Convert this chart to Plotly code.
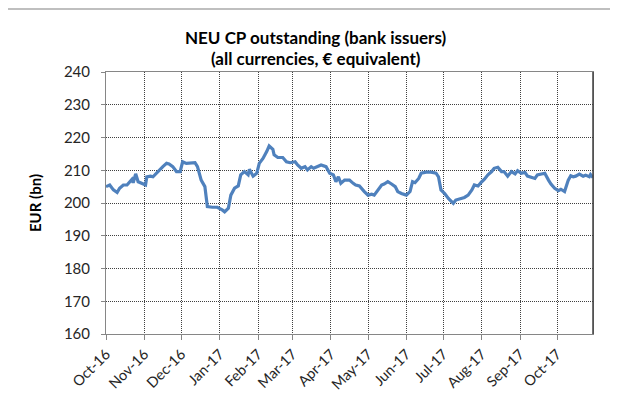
import plotly.graph_objects as go

dates = [
    "2016-10-01", "2016-10-04", "2016-10-07", "2016-10-10", "2016-10-12", "2016-10-15",
    "2016-10-18", "2016-10-20", "2016-10-22", "2016-10-23", "2016-10-25", "2016-10-27",
    "2016-10-30", "2016-11-02", "2016-11-03", "2016-11-06", "2016-11-08", "2016-11-11",
    "2016-11-13", "2016-11-16", "2016-11-19", "2016-11-21", "2016-11-24", "2016-11-27",
    "2016-11-30", "2016-12-02", "2016-12-05", "2016-12-08", "2016-12-12", "2016-12-14",
    "2016-12-17", "2016-12-20", "2016-12-21", "2016-12-22", "2016-12-26", "2016-12-30",
    "2017-01-03", "2017-01-05", "2017-01-08", "2017-01-10", "2017-01-13", "2017-01-16",
    "2017-01-18", "2017-01-21", "2017-01-24", "2017-01-25", "2017-01-28", "2017-01-31",
    "2017-02-02", "2017-02-05", "2017-02-08", "2017-02-10", "2017-02-13", "2017-02-14",
    "2017-02-17", "2017-02-21", "2017-02-24", "2017-02-27", "2017-03-03", "2017-03-05",
    "2017-03-08", "2017-03-11", "2017-03-13", "2017-03-16", "2017-03-18", "2017-03-21",
    "2017-03-24", "2017-03-28", "2017-03-31", "2017-04-03", "2017-04-05", "2017-04-07",
    "2017-04-09", "2017-04-12", "2017-04-16", "2017-04-19", "2017-04-21", "2017-04-24",
    "2017-04-26", "2017-04-28", "2017-05-01", "2017-05-04", "2017-05-06", "2017-05-09",
    "2017-05-12", "2017-05-14", "2017-05-17", "2017-05-20", "2017-05-23", "2017-05-25",
    "2017-05-28", "2017-06-01", "2017-06-04", "2017-06-06", "2017-06-08", "2017-06-11",
    "2017-06-13", "2017-06-17", "2017-06-21", "2017-06-25", "2017-06-27", "2017-06-29",
    "2017-07-02", "2017-07-05", "2017-07-09", "2017-07-11", "2017-07-14", "2017-07-18",
    "2017-07-21", "2017-07-24", "2017-07-26", "2017-07-29", "2017-08-01", "2017-08-03",
    "2017-08-06", "2017-08-09", "2017-08-11", "2017-08-14", "2017-08-17", "2017-08-19",
    "2017-08-22", "2017-08-25", "2017-08-28", "2017-08-30", "2017-09-02", "2017-09-05",
    "2017-09-07", "2017-09-10", "2017-09-13", "2017-09-15", "2017-09-18", "2017-09-21",
    "2017-09-24", "2017-09-26", "2017-09-29", "2017-10-02", "2017-10-04", "2017-10-07",
    "2017-10-10", "2017-10-12", "2017-10-14", "2017-10-16", "2017-10-19", "2017-10-22",
    "2017-10-24", "2017-10-27", "2017-10-28", "2017-10-30",
]

outstanding = [
    205.0, 205.5, 204.0, 203.2, 204.5, 205.5,
    205.5, 206.5, 207.2, 206.2, 208.9, 206.5,
    206.0, 205.5, 208.0, 208.2, 208.0, 209.3,
    210.1, 211.1, 212.1, 211.9, 211.1, 209.6,
    209.6, 212.6, 212.1, 212.1, 212.3, 211.1,
    207.0, 205.0, 201.4, 198.9, 198.7, 198.7,
    197.9, 197.3, 198.4, 202.4, 204.5, 205.2,
    208.6, 209.6, 208.6, 210.3, 208.2, 209.1,
    212.1, 213.6, 215.7, 217.4, 216.4, 214.7,
    213.9, 213.9, 212.6, 212.3, 212.6, 211.6,
    210.6, 211.1, 210.1, 211.1, 210.6, 211.1,
    211.6, 211.1, 209.1, 208.6, 206.5, 208.0,
    206.0, 207.0, 207.0, 206.0, 205.5, 205.2,
    204.5, 203.5, 202.4, 202.7, 202.4, 203.9,
    205.5, 205.8, 206.5, 205.8, 205.0, 203.5,
    202.9, 202.4, 203.5, 206.5, 206.2, 207.5,
    209.1, 209.4, 209.4, 209.1, 208.0, 204.0,
    202.9, 201.4, 199.9, 200.9, 201.2, 201.7,
    202.4, 204.0, 205.5, 205.2, 206.5, 207.2,
    208.6, 209.6, 210.6, 210.9, 209.6, 209.6,
    208.2, 209.6, 208.9, 209.9, 209.1, 209.3,
    208.2, 207.8, 207.5, 208.6, 208.9, 209.1,
    207.0, 205.8, 204.5, 203.8, 204.2, 203.5,
    207.0, 208.3, 208.0, 208.2, 208.8, 208.2,
    208.5, 208.0, 208.7, 207.8,
]

month_ticks = [
    "2016-10-01", "2016-11-01", "2016-12-01", "2017-01-01", "2017-02-01", "2017-03-01",
    "2017-04-01", "2017-05-01", "2017-06-01", "2017-07-01", "2017-08-01", "2017-09-01",
    "2017-10-01",
]
month_labels = [
    "Oct-16", "Nov-16", "Dec-16", "Jan-17", "Feb-17", "Mar-17", "Apr-17", "May-17",
    "Jun-17", "Jul-17", "Aug-17", "Sep-17", "Oct-17",
]
y_ticks = [160, 170, 180, 190, 200, 210, 220, 230, 240]

FONT = "Lato"
TXT = "#262626"
GRID = "#404040"

fig = go.Figure()
fig.add_trace(go.Scatter(
    x=dates, y=outstanding, mode="lines",
    line=dict(color="#4F81BD", width=3.2),
    showlegend=False, hoverinfo="x+y",
))

fig.update_layout(
    width=610, height=392,
    margin=dict(l=98, r=25, t=64, b=66),
    paper_bgcolor="white", plot_bgcolor="white",
    font=dict(family=FONT, size=13, color=TXT),
    xaxis=dict(
        type="date",
        range=["2016-10-01", "2017-10-30"],
        tickmode="array", tickvals=month_ticks, ticktext=month_labels,
        tickangle=-45, automargin=False,
        ticks="outside", ticklen=5, tickcolor="#868686",
        showgrid=True, gridcolor=GRID, griddash="1px,1px", gridwidth=1,
        showline=True, linecolor="#868686", linewidth=1, mirror=True,
        tickfont=dict(family=FONT, size=14.5, color=TXT),
        zeroline=False,
    ),
    yaxis=dict(
        range=[160, 240], automargin=False,
        tickmode="array", tickvals=y_ticks,
        ticks="outside", ticklen=4, tickcolor="#868686",
        ticklabelstandoff=8,
        showgrid=True, gridcolor=GRID, griddash="1px,1px", gridwidth=1,
        showline=True, linecolor="#868686", linewidth=1, mirror=True,
        tickfont=dict(family=FONT, size=15, color=TXT),
        zeroline=False,
    ),
    shapes=[
        dict(type="rect", xref="paper", yref="paper",
             x0=-0.2033, x1=1.037, y0=-0.32, y1=1.2405,
             line=dict(color="#BFBFBF", width=2), fillcolor="rgba(0,0,0,0)", layer="below"),
        dict(type="line", xref="paper", yref="paper", x0=1, x1=1, y0=0, y1=1,
             line=dict(color="#404040", width=1.5)),
    ],
    annotations=[
        dict(text="<b>NEU CP outstanding (bank issuers)</b>",
             xref="paper", yref="paper", x=0.431, y=1 + (72 - 38) / 262,
             xanchor="center", yanchor="middle", showarrow=False,
             font=dict(family=FONT, size=17, color="#000000")),
        dict(text="<b>(all currencies, € equivalent)</b>",
             xref="paper", yref="paper", x=0.431, y=1 + (72 - 58.5) / 262,
             xanchor="center", yanchor="middle", showarrow=False,
             font=dict(family=FONT, size=17, color="#000000")),
        dict(text="<b>EUR (bn)</b>", textangle=-90,
             xref="paper", yref="paper", x=(35 - 106) / 487, y=0.5,
             xanchor="center", yanchor="middle", showarrow=False,
             font=dict(family=FONT, size=15, color="#000000")),
    ],
)

fig.write_html("out.html")
